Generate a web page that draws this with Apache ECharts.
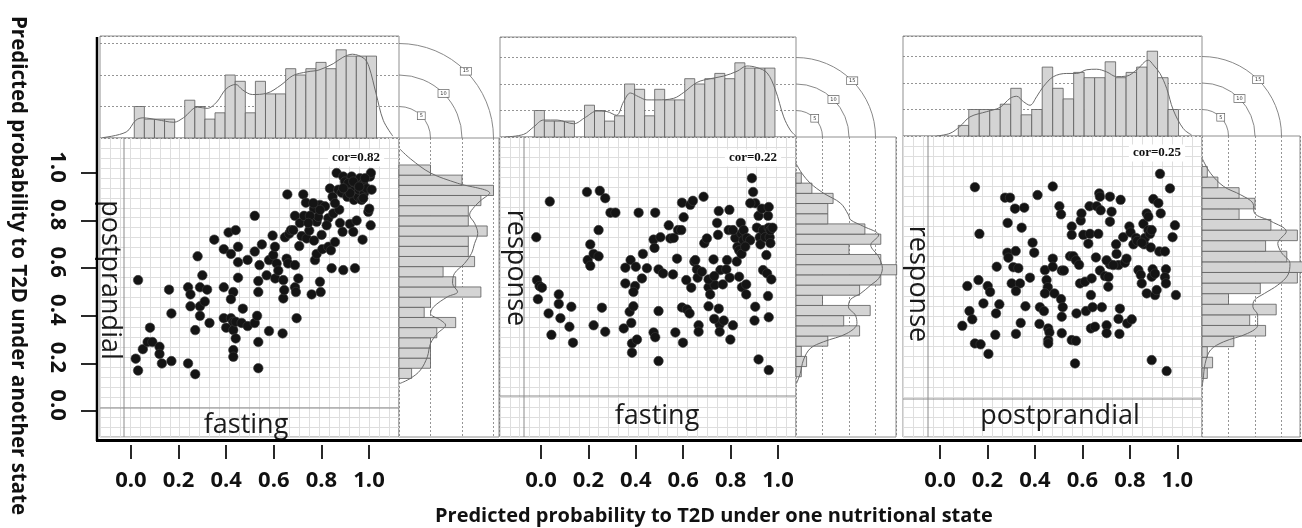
<!DOCTYPE html>
<html>
<head>
<meta charset="utf-8">
<script src="https://cdn.jsdelivr.net/npm/echarts@6/dist/echarts.min.js"></script>
<style>
  html, body { margin: 0; padding: 0; background: #fff; }
  #main { width: 1302px; height: 528px; }
</style>
</head>
<body>
<div id="main"></div>
<script>
// predicted probabilities, one point per subject: [state on x, state on y]
const fastingVsPost = [
  [0.03,0.55],[0.02,0.22],[0.03,0.17],[0.05,0.26],[0.08,0.35],[0.07,0.29],[0.09,0.29],[0.12,0.27],[0.12,0.24],[0.13,0.20],
  [0.17,0.21],[0.16,0.51],[0.17,0.41],[0.24,0.20],[0.27,0.155],[0.24,0.52],[0.25,0.49],[0.25,0.44],[0.27,0.34],[0.28,0.65],
  [0.29,0.44],[0.29,0.40],[0.29,0.52],[0.30,0.57],[0.31,0.46],[0.32,0.51],[0.33,0.37],[0.35,0.72],[0.39,0.52],[0.39,0.39],
  [0.41,0.75],[0.39,0.68],[0.42,0.66],[0.40,0.35],[0.42,0.39],[0.43,0.375],[0.43,0.34],[0.43,0.50],[0.42,0.47],[0.44,0.305],
  [0.43,0.256],[0.43,0.228],[0.44,0.76],[0.45,0.625],[0.45,0.69],[0.45,0.56],[0.44,0.375],[0.465,0.37],[0.47,0.43],[0.49,0.635],
  [0.49,0.357],[0.52,0.82],[0.52,0.67],[0.52,0.37],[0.53,0.40],[0.535,0.50],[0.535,0.546],[0.535,0.29],[0.535,0.18],[0.55,0.70],
  [0.54,0.613],[0.58,0.336],[0.595,0.737],[0.57,0.57],[0.58,0.634],[0.598,0.655],[0.605,0.69],[0.612,0.62],[0.606,0.557],[0.619,0.59],
  [0.637,0.326],[0.64,0.473],[0.644,0.508],[0.64,0.55],[0.647,0.73],[0.654,0.64],[0.657,0.91],[0.665,0.745],[0.672,0.76],[0.66,0.62],
  [0.682,0.76],[0.689,0.613],[0.689,0.52],[0.689,0.82],[0.696,0.39],[0.693,0.50],[0.703,0.557],[0.707,0.693],[0.71,0.79],[0.717,0.735],
  [0.724,0.91],[0.727,0.82],[0.735,0.875],[0.738,0.725],[0.749,0.758],[0.759,0.49],[0.769,0.716],[0.769,0.85],[0.773,0.634],[0.78,0.66],
  [0.78,0.795],[0.787,0.816],[0.794,0.543],[0.797,0.50],[0.801,0.74],[0.794,0.866],[0.815,0.86],[0.804,0.68],[0.829,0.69],[0.829,0.81],
  [0.836,0.935],[0.84,0.675],[0.843,0.60],[0.847,0.90],[0.85,0.83],[0.857,0.71],[0.864,1.0],[0.871,0.93],[0.875,0.846],[0.878,0.79],
  [0.885,0.917],[0.889,0.753],[0.892,0.592],[0.892,0.985],[0.899,0.964],[0.906,0.943],[0.909,0.90],[0.92,0.786],[0.927,0.985],[0.931,0.93],
  [0.934,0.753],[0.937,0.887],[0.941,0.60],[0.945,0.957],[0.948,0.80],[0.955,0.90],[0.959,0.93],[0.962,0.978],[0.969,0.887],[0.973,0.72],
  [0.976,0.957],[0.979,0.915],[0.99,0.935],[0.997,0.837],[1.004,0.985],[1.008,1.0],[1.007,0.78],[1.011,0.93],[1.001,0.85],[0.913,0.957],
  [0.934,0.964],[0.959,0.943],[0.92,0.915],[0.976,0.894],[0.857,0.873],[0.822,0.78],[0.752,0.82],[0.745,0.79],[0.794,0.845],[0.766,0.873],
  [0.892,0.936],[0.983,0.978]
];
const fastingVsResp = [
  [-0.02,0.73],[0.037,0.88],[-0.017,0.55],[-0.006,0.525],[0.004,0.518],[-0.013,0.47],[0.032,0.41],[0.044,0.32],[0.075,0.49],[0.075,0.45],
  [0.082,0.39],[0.12,0.354],[0.128,0.438],[0.135,0.287],[0.194,0.92],[0.248,0.925],[0.271,0.894],[0.243,0.76],[0.293,0.833],[0.314,0.833],
  [0.208,0.70],[0.197,0.634],[0.222,0.66],[0.243,0.65],[0.208,0.61],[0.257,0.434],[0.222,0.36],[0.271,0.333],[0.349,0.347],[0.356,0.602],
  [0.356,0.536],[0.378,0.634],[0.374,0.417],[0.381,0.37],[0.39,0.44],[0.397,0.525],[0.39,0.50],[0.40,0.606],[0.384,0.284],[0.384,0.245],
  [0.405,0.30],[0.412,0.833],[0.426,0.557],[0.43,0.66],[0.447,0.60],[0.475,0.72],[0.482,0.833],[0.479,0.685],[0.496,0.595],[0.504,0.73],
  [0.496,0.42],[0.475,0.33],[0.482,0.31],[0.496,0.21],[0.515,0.578],[0.539,0.78],[0.546,0.725],[0.56,0.727],[0.557,0.574],[0.567,0.33],
  [0.574,0.64],[0.578,0.76],[0.595,0.875],[0.602,0.814],[0.595,0.435],[0.599,0.287],[0.613,0.55],[0.616,0.427],[0.627,0.41],[0.634,0.518],
  [0.63,0.866],[0.641,0.883],[0.647,0.628],[0.651,0.634],[0.658,0.595],[0.661,0.56],[0.665,0.36],[0.665,0.333],[0.679,0.585],[0.686,0.90],
  [0.689,0.705],[0.70,0.725],[0.707,0.52],[0.707,0.44],[0.714,0.49],[0.728,0.637],[0.733,0.53],[0.743,0.79],[0.747,0.74],[0.75,0.84],
  [0.75,0.43],[0.754,0.364],[0.754,0.333],[0.757,0.592],[0.731,0.387],[0.767,0.532],[0.771,0.38],[0.782,0.595],[0.785,0.634],[0.792,0.76],
  [0.795,0.845],[0.796,0.56],[0.799,0.30],[0.81,0.36],[0.82,0.727],[0.826,0.628],[0.829,0.69],[0.836,0.675],[0.836,0.564],[0.843,0.79],
  [0.846,0.66],[0.846,0.745],[0.854,0.717],[0.848,0.52],[0.855,0.76],[0.866,0.532],[0.866,0.49],[0.869,0.727],[0.89,0.978],[0.895,0.92],
  [0.883,0.717],[0.904,0.873],[0.911,0.77],[0.918,0.82],[0.923,0.73],[0.926,0.70],[0.932,0.85],[0.937,0.592],[0.937,0.76],[0.946,0.73],
  [0.951,0.655],[0.954,0.578],[0.958,0.82],[0.961,0.77],[0.965,0.73],[0.968,0.705],[0.972,0.553],[0.961,0.857],[0.904,0.438],[0.901,0.38],
  [0.961,0.394],[0.958,0.483],[0.918,0.217],[0.961,0.172],[0.968,0.76],[0.977,0.77],[0.883,0.873],[0.81,0.76],[0.862,0.69],[0.592,0.76],
  [0.707,0.553],[0.731,0.567]
];
const postVsResp = [
  [0.147,0.94],[0.166,0.744],[0.115,0.525],[0.162,0.55],[0.124,0.42],[0.136,0.385],[0.094,0.358],[0.147,0.284],[0.171,0.28],[0.204,0.24],
  [0.201,0.525],[0.211,0.50],[0.183,0.452],[0.236,0.41],[0.25,0.448],[0.233,0.32],[0.239,0.606],[0.274,0.896],[0.295,0.896],[0.316,0.85],
  [0.355,0.854],[0.285,0.79],[0.344,0.77],[0.284,0.665],[0.288,0.644],[0.319,0.672],[0.309,0.604],[0.33,0.60],[0.302,0.536],[0.337,0.536],
  [0.32,0.504],[0.34,0.37],[0.32,0.324],[0.36,0.44],[0.379,0.56],[0.39,0.707],[0.397,0.665],[0.411,0.907],[0.475,0.943],[0.421,0.436],
  [0.419,0.366],[0.442,0.592],[0.449,0.55],[0.454,0.52],[0.442,0.494],[0.438,0.42],[0.456,0.347],[0.461,0.33],[0.456,0.298],[0.456,0.284],
  [0.475,0.64],[0.475,0.606],[0.482,0.494],[0.503,0.86],[0.51,0.826],[0.51,0.47],[0.517,0.436],[0.513,0.396],[0.513,0.327],[0.513,0.59],
  [0.522,0.59],[0.555,0.775],[0.555,0.74],[0.548,0.65],[0.562,0.65],[0.573,0.633],[0.555,0.298],[0.573,0.295],[0.569,0.20],[0.575,0.41],
  [0.586,0.614],[0.59,0.536],[0.593,0.80],[0.596,0.83],[0.604,0.74],[0.611,0.543],[0.615,0.42],[0.625,0.703],[0.63,0.86],[0.632,0.744],
  [0.636,0.487],[0.639,0.557],[0.636,0.347],[0.643,0.436],[0.653,0.354],[0.657,0.645],[0.66,0.86],[0.667,0.744],[0.671,0.914],[0.674,0.90],
  [0.677,0.843],[0.674,0.59],[0.682,0.436],[0.695,0.567],[0.702,0.36],[0.702,0.327],[0.709,0.522],[0.71,0.563],[0.716,0.90],[0.716,0.795],
  [0.723,0.837],[0.716,0.616],[0.742,0.70],[0.744,0.66],[0.752,0.613],[0.752,0.387],[0.756,0.324],[0.758,0.43],[0.761,0.887],[0.772,0.73],
  [0.779,0.623],[0.789,0.368],[0.798,0.775],[0.803,0.75],[0.808,0.385],[0.815,0.70],[0.826,0.727],[0.831,0.714],[0.836,0.592],[0.846,0.572],
  [0.85,0.536],[0.857,0.786],[0.86,0.70],[0.864,0.727],[0.871,0.83],[0.871,0.494],[0.878,0.76],[0.885,0.744],[0.888,0.687],[0.892,0.76],
  [0.892,0.564],[0.896,0.595],[0.899,0.89],[0.906,0.577],[0.906,0.487],[0.913,0.508],[0.92,0.873],[0.924,0.67],[0.93,0.83],[0.927,0.996],
  [0.892,0.214],[0.955,0.168],[0.948,0.67],[0.952,0.595],[0.948,0.562],[0.952,0.536],[0.969,0.935],[0.98,0.73],[0.99,0.78],[0.994,0.487],
  [0.786,0.64],[0.85,0.707],[0.878,0.816],[0.702,0.633],[0.73,0.613]
];

// marginal histogram counts (bins left-to-right / bottom-to-top)
const fastingCounts = [5,3,3,3,0,6,5,3,4,10,9,4,9,7,7,11,10,11,12,11,14,13,13,13];
const postCountsP1 = [2,5,5,5,6,9,4,5,13,9,7,12,11,11,14,11,11,13,15,10,5];
const postCountsP3 = [2,5,5,5,6,9,4,5,13,9,7,12,11,11,14,11,12,13,16,11,5];
const respCountsP2 = [1,2,1,6,12,9,14,5,12,16,19,16,10,16,13,6,6,7,3,1];
const respCountsP3 = [1,2,1,6,12,9,14,5,11,18,19,16,12,18,13,7,10,7,3,1];

// density curves: top = [x, count], right = [count, y]
const fastingDensP1 = [[-0.12,0.05],[-0.02,0.95],[0.02,2.8],[0.05,3.2],[0.11,2.9],[0.18,2.5],[0.22,3.2],[0.28,4.9],[0.32,4.7],[0.36,5.7],[0.40,7.8],[0.44,8.5],[0.47,7.6],[0.51,6.9],[0.57,7.1],[0.63,8.4],[0.68,9.9],[0.74,10.5],[0.79,10.8],[0.85,11.8],[0.89,12.8],[0.93,13.3],[0.98,12.6],[1.00,11.3],[1.03,7.0],[1.06,2.8],[1.10,0.3]];
const postDensP1 = [[0.16,1.10],[1.8,1.06],[5.0,1.0],[9.3,0.957],[14.4,0.915],[13.1,0.887],[12.0,0.859],[11.2,0.824],[12.0,0.789],[12.5,0.746],[12.0,0.704],[11.5,0.662],[10.4,0.62],[8.8,0.578],[8.5,0.536],[9.3,0.501],[7.7,0.48],[5.5,0.438],[5.0,0.41],[6.6,0.382],[7.4,0.361],[6.1,0.326],[5.0,0.284],[4.5,0.228],[3.4,0.172],[1.8,0.137],[0.16,0.116]];
const fastingDensP2 = [[-0.15,0],[-0.073,0.5],[-0.031,1.9],[0.011,3.2],[0.068,3.2],[0.138,2.5],[0.187,3.7],[0.236,4.9],[0.278,4.8],[0.318,4.1],[0.349,6.7],[0.377,8.3],[0.412,7.6],[0.447,7.0],[0.489,7.0],[0.56,7.3],[0.602,8.4],[0.658,10.3],[0.714,11.0],[0.771,11.5],[0.827,12.4],[0.869,13.4],[0.911,13.1],[0.954,12.1],[0.989,8.9],[1.024,3.8],[1.052,1.3],[1.077,0.1]];
const respDensP2 = [[0,1.04],[1.1,0.999],[2.7,0.957],[5.2,0.915],[8.4,0.873],[9.9,0.824],[10.3,0.803],[12.8,0.775],[15.6,0.739],[14.1,0.697],[15.6,0.648],[16.3,0.599],[15.6,0.557],[14.1,0.529],[12.2,0.494],[10.3,0.469],[9.9,0.438],[11.2,0.403],[11.5,0.368],[9.6,0.326],[5.2,0.291],[2.7,0.263],[1.4,0.214],[0.8,0.158],[0.1,0.116]];
const postDensP3 = [[-0.014,0],[0.042,0.5],[0.084,1.8],[0.126,3.6],[0.197,4.6],[0.253,5.4],[0.295,7.1],[0.323,7.5],[0.351,6.5],[0.379,5.8],[0.407,7.4],[0.435,9.3],[0.478,11.2],[0.534,11.8],[0.576,11.8],[0.618,12.5],[0.66,12.6],[0.702,12.1],[0.744,11.2],[0.787,11.3],[0.829,12.5],[0.878,14.3],[0.899,13.4],[0.927,11.8],[0.955,9.0],[0.983,4.9],[1.025,1.4],[1.06,0.2]];
const respDensP3 = [[0,1.062],[1.6,0.999],[4.1,0.943],[7.3,0.908],[9.6,0.873],[9.9,0.831],[13.1,0.796],[15.9,0.754],[14.3,0.704],[15.0,0.665],[16.6,0.62],[16.2,0.571],[14.3,0.529],[11.8,0.494],[9.9,0.466],[9.6,0.438],[10.5,0.403],[10.5,0.361],[8.6,0.326],[4.1,0.291],[1.6,0.256],[0.6,0.20],[0.2,0.13],[0,0.102]];

const tickValues = [0, 0.2, 0.4, 0.6, 0.8, 1.0];
const tickLabels = ['0.0', '0.2', '0.4', '0.6', '0.8', '1.0'];
const guideCounts = [5, 10, 15];
const corLabels = ['cor=0.82', 'cor=0.22', 'cor=0.25'];
const xStrips = ['fasting', 'fasting', 'postprandial'];
const yStrips = ['postprandial', 'response', 'response'];

// pixel layout of the three panels; k = pixels per histogram count
const panels = [
  { left: 100, right: 399, histTop: 36, top: 138, bottom: 437, rightEdge: 499, k: 6.3,
    xMin: -0.130, xMax: 1.126, yMin: -0.109, yMax: 1.147, stripX: 124, stripY: 408,
    xText: [246, 425], yText: [110, 280], corPos: [356, 158],
    data: fastingVsPost, topCounts: fastingCounts, topBin: [0.014, 0.0424], topDens: fastingDensP1,
    rightCounts: postCountsP1, rightBin: [0.137, 0.0427], rightDens: postDensP1 },
  { left: 500, right: 796, histTop: 37, top: 137, bottom: 437, rightEdge: 896, k: 5.3,
    xMin: -0.173, xMax: 1.076, yMin: -0.109, yMax: 1.151, stripX: 524, stripY: 396,
    xText: [657, 416], yText: [516, 268], corPos: [753, 158],
    data: fastingVsResp, topCounts: fastingCounts, topBin: [-0.028, 0.0423], topDens: fastingDensP2,
    rightCounts: respCountsP2, rightBin: [0.144, 0.0428], rightDens: respDensP2 },
  { left: 903, right: 1202, histTop: 36, top: 136, bottom: 437, rightEdge: 1300, k: 5.3,
    xMin: -0.156, xMax: 1.104, yMin: -0.109, yMax: 1.155, stripX: 928, stripY: 399,
    xText: [1060, 416], yText: [918, 284], corPos: [1157, 153],
    data: postVsResp, topCounts: postCountsP3, topBin: [0.077, 0.0442], topDens: postDensP3,
    rightCounts: respCountsP3, rightBin: [0.137, 0.0445], rightDens: respDensP3 }
];

const HIST_FILL = '#d4d4d4';
const HIST_EDGE = '#5a5a5a';
const BOX = '#8f8f8f';
const GUIDE = '#7a7a7a';

function binData(counts, bin) {
  return counts.map((c, i) => [bin[0] + i * bin[1], bin[0] + (i + 1) * bin[1], c]);
}

function renderTopBar(params, api) {
  if (!api.value(2)) return null;
  const a = api.coord([api.value(0), 0]);
  const b = api.coord([api.value(1), api.value(2)]);
  return {
    type: 'rect',
    shape: { x: a[0], y: b[1], width: b[0] - a[0], height: a[1] - b[1] },
    style: { fill: HIST_FILL, stroke: HIST_EDGE, lineWidth: 0.8 }
  };
}

function renderRightBar(params, api) {
  if (!api.value(2)) return null;
  const a = api.coord([0, api.value(0)]);
  const b = api.coord([api.value(2), api.value(1)]);
  return {
    type: 'rect',
    shape: { x: a[0], y: b[1], width: b[0] - a[0], height: a[1] - b[1] },
    style: { fill: HIST_FILL, stroke: HIST_EDGE, lineWidth: 0.8 }
  };
}

const grid = [], xAxis = [], yAxis = [], series = [], graphic = [];
const hidden = { axisLine: { show: false, onZero: false }, axisTick: { show: false }, axisLabel: { show: false } };
const boldFont = '"Open Sans", "DejaVu Sans", sans-serif';
const stripFont = '27px "Open Sans", sans-serif';

panels.forEach((p, i) => {
  const g = grid.length;
  const xs = xAxis.length;
  const ys = yAxis.length;
  const topMax = (p.top - p.histTop) / p.k;
  const rightMax = (p.rightEdge - p.right) / p.k;

  grid.push({ left: p.left, top: p.top, width: p.right - p.left, height: p.bottom - p.top,
    show: true, borderColor: BOX, borderWidth: 1, backgroundColor: '#fff' });
  grid.push({ left: p.left, top: p.histTop, width: p.right - p.left, height: p.top - p.histTop,
    show: true, borderColor: BOX, borderWidth: 1 });
  grid.push({ left: p.right, top: p.top, width: p.rightEdge - p.right, height: p.bottom - p.top,
    show: true, borderColor: BOX, borderWidth: 1 });

  // scatter: fine lattice grid + outer ticks
  xAxis.push(Object.assign({ type: 'value', gridIndex: g, min: p.xMin, max: p.xMax,
    interval: (p.xMax - p.xMin) / 30,
    splitLine: { lineStyle: { color: '#dedede', width: 1 } } }, hidden));
  xAxis.push({ type: 'value', gridIndex: g, min: p.xMin, max: p.xMax, position: 'bottom', offset: 8,
    axisLine: { show: false, onZero: false },
    axisTick: { show: true, length: 14, customValues: tickValues, lineStyle: { color: '#111', width: 1.8 } },
    axisLabel: { customValues: tickValues, formatter: v => tickLabels[tickValues.indexOf(v)],
      margin: 25, fontFamily: boldFont, fontWeight: 'bold', fontSize: 22, color: '#111' },
    splitLine: { show: false } });
  xAxis.push({ type: 'value', gridIndex: g + 1, min: p.xMin, max: p.xMax, show: false });
  xAxis.push(Object.assign({ type: 'value', gridIndex: g + 2, min: 0, max: rightMax, interval: 5,
    splitLine: { lineStyle: { color: GUIDE, width: 0.8, type: [2, 2] } } }, hidden));

  yAxis.push(Object.assign({ type: 'value', gridIndex: g, min: p.yMin, max: p.yMax,
    interval: (p.yMax - p.yMin) / 30,
    splitLine: { lineStyle: { color: '#dedede', width: 1 } } }, hidden));
  yAxis.push(Object.assign({ type: 'value', gridIndex: g + 1, min: 0, max: topMax, interval: 5,
    splitLine: { lineStyle: { color: GUIDE, width: 0.8, type: [2, 2] } } }, hidden));
  yAxis.push({ type: 'value', gridIndex: g + 2, min: p.yMin, max: p.yMax, show: false });
  if (i === 0) {
    yAxis.push({ type: 'value', gridIndex: g, min: p.yMin, max: p.yMax, position: 'left', offset: 3,
      axisLine: { show: false, onZero: false },
      axisTick: { show: true, length: 16, customValues: tickValues, lineStyle: { color: '#111', width: 1.8 } },
      axisLabel: { customValues: tickValues, formatter: v => tickLabels[tickValues.indexOf(v)],
        rotate: -90, margin: 29, padding: [0, 12, 0, 0],
        fontFamily: boldFont, fontWeight: 'bold', fontSize: 22, color: '#111' },
      splitLine: { show: false } });
  }

  series.push({ type: 'scatter', xAxisIndex: xs, yAxisIndex: ys, data: p.data, symbolSize: 9.5,
    itemStyle: { color: '#141414', borderColor: '#3a3a3a', borderWidth: 0.6, opacity: 1 }, z: 4 });
  series.push({ type: 'custom', xAxisIndex: xs + 2, yAxisIndex: ys + 1,
    data: binData(p.topCounts, p.topBin), renderItem: renderTopBar, z: 2 });
  series.push({ type: 'line', xAxisIndex: xs + 2, yAxisIndex: ys + 1, data: p.topDens,
    showSymbol: false, smooth: 0.35, lineStyle: { color: '#6a6a6a', width: 1 }, z: 3 });
  series.push({ type: 'custom', xAxisIndex: xs + 3, yAxisIndex: ys + 2,
    data: binData(p.rightCounts, p.rightBin), renderItem: renderRightBar, z: 2 });
  series.push({ type: 'line', xAxisIndex: xs + 3, yAxisIndex: ys + 2, data: p.rightDens,
    showSymbol: false, smooth: 0.35, lineStyle: { color: '#6a6a6a', width: 1 }, z: 3 });

  // strip separators and labels
  graphic.push({ type: 'line', z: 5, shape: { x1: p.stripX, y1: p.top, x2: p.stripX, y2: p.bottom },
    style: { stroke: '#8a8a8a', lineWidth: 1 } });
  graphic.push({ type: 'line', z: 5, shape: { x1: p.left, y1: p.stripY, x2: p.right, y2: p.stripY },
    style: { stroke: '#8a8a8a', lineWidth: 1 } });
  graphic.push({ type: 'text', z: 6, x: p.yText[0], y: p.yText[1], rotation: -Math.PI / 2,
    style: { text: yStrips[i], font: stripFont, fill: '#1a1a1a', align: 'center', verticalAlign: 'middle' } });
  graphic.push({ type: 'text', z: 6, x: p.xText[0], y: p.xText[1],
    style: { text: xStrips[i], font: stripFont, fill: '#1a1a1a', align: 'center', verticalAlign: 'middle' } });
  graphic.push({ type: 'text', z: 6, x: p.corPos[0], y: p.corPos[1],
    style: { text: corLabels[i], font: 'bold 13px "Liberation Serif", "DejaVu Serif", serif', fill: '#111',
      align: 'center', verticalAlign: 'middle', backgroundColor: '#fff', padding: [2, 4] } });

  // quarter-circle guides joining the dashed count lines of both margins
  guideCounts.forEach(c => {
    const r = c * p.k;
    graphic.push({ type: 'arc', z: 5, shape: { cx: p.right, cy: p.top, r: r, startAngle: -Math.PI / 2, endAngle: 0, clockwise: true },
      style: { stroke: GUIDE, fill: null, lineWidth: 0.9 } });
    graphic.push({ type: 'text', z: 6, x: p.right + r * 0.707, y: p.top - r * 0.707,
      style: { text: String(c), font: '5px "DejaVu Sans", sans-serif', fill: '#333', align: 'center', verticalAlign: 'middle',
        backgroundColor: '#fff', borderColor: '#666', borderWidth: 0.7, padding: [1, 2] } });
  });
});

// outer frame lines and axis titles
graphic.push({ type: 'line', z: 7, shape: { x1: 97, y1: 37, x2: 97, y2: 441 }, style: { stroke: '#000', lineWidth: 2.5 } });
graphic.push({ type: 'line', z: 7, shape: { x1: 96, y1: 440.5, x2: 1302, y2: 440.5 }, style: { stroke: '#000', lineWidth: 3 } });
graphic.push({ type: 'text', z: 7, x: 435, y: 516,
  style: { text: 'Predicted probability to T2D under one nutritional state', font: 'bold 20px ' + boldFont,
    fill: '#111', align: 'left', verticalAlign: 'middle' } });
graphic.push({ type: 'text', z: 7, x: 18, y: 16, rotation: -Math.PI / 2,
  style: { text: 'Predicted probability to T2D under another state', font: 'bold 20.5px ' + boldFont,
    fill: '#111', align: 'left', verticalAlign: 'middle' } });

const chart = echarts.init(document.getElementById('main'));
chart.setOption({
  animation: false,
  backgroundColor: '#fff',
  grid: grid,
  xAxis: xAxis,
  yAxis: yAxis,
  series: series,
  graphic: graphic
});
</script>
</body>
</html>
